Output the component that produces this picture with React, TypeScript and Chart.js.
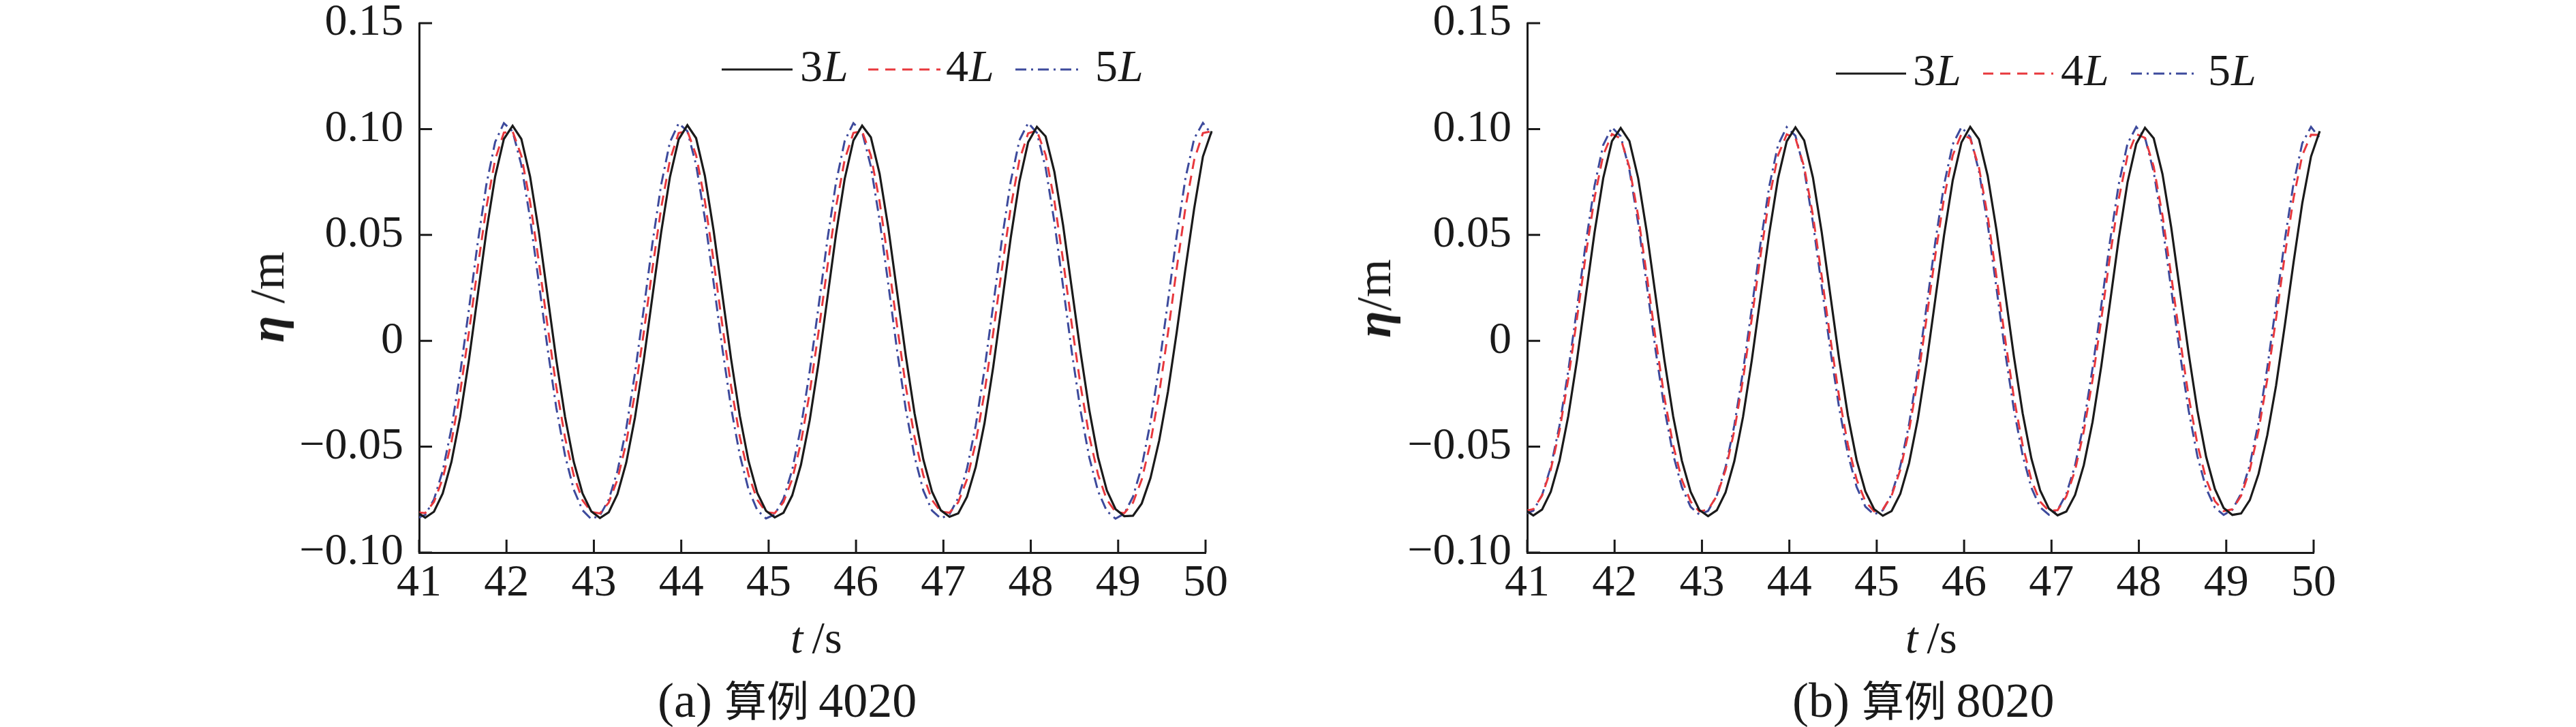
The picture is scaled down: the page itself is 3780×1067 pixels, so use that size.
import React, { useEffect, useRef } from 'react';
import { Chart, registerables } from 'chart.js';

Chart.register(...registerables);

// ---------- data ----------
const TIME = [
  40.97, 41.07, 41.17, 41.27, 41.37, 41.47, 41.57, 41.67, 41.77, 41.87,
  41.97, 42.07, 42.17, 42.27, 42.37, 42.47, 42.57, 42.67, 42.77, 42.87,
  42.97, 43.07, 43.17, 43.27, 43.37, 43.47, 43.57, 43.67, 43.77, 43.87,
  43.97, 44.07, 44.17, 44.27, 44.37, 44.47, 44.57, 44.67, 44.77, 44.87,
  44.97, 45.07, 45.17, 45.27, 45.37, 45.47, 45.57, 45.67, 45.77, 45.87,
  45.97, 46.07, 46.17, 46.27, 46.37, 46.47, 46.57, 46.67, 46.77, 46.87,
  46.97, 47.07, 47.17, 47.27, 47.37, 47.47, 47.57, 47.67, 47.77, 47.87,
  47.97, 48.07, 48.17, 48.27, 48.37, 48.47, 48.57, 48.67, 48.77, 48.87,
  48.97, 49.07, 49.17, 49.27, 49.37, 49.47, 49.57, 49.67, 49.77, 49.87,
  49.97, 50.07,
];

const SERIES_NAMES = ['3L', '4L', '5L'];

// (a) case 4020
const A_3L = [
  -0.0807, -0.0835, -0.0807, -0.0721, -0.0572, -0.0359, -0.0090, 0.0213, 0.0516, 0.0776,
  0.0953, 0.1015, 0.0953, 0.0776, 0.0516, 0.0213, -0.0090, -0.0359, -0.0572, -0.0721,
  -0.0805, -0.0837, -0.0810, -0.0724, -0.0576, -0.0363, -0.0094, 0.0209, 0.0512, 0.0772,
  0.0951, 0.1018, 0.0957, 0.0780, 0.0521, 0.0218, -0.0085, -0.0354, -0.0568, -0.0718,
  -0.0803, -0.0834, -0.0812, -0.0730, -0.0585, -0.0375, -0.0108, 0.0195, 0.0500, 0.0764,
  0.0946, 0.1016, 0.0961, 0.0789, 0.0532, 0.0230, -0.0072, -0.0343, -0.0560, -0.0713,
  -0.0800, -0.0831, -0.0815, -0.0737, -0.0596, -0.0390, -0.0124, 0.0178, 0.0485, 0.0752,
  0.0938, 0.1010, 0.0965, 0.0798, 0.0545, 0.0245, -0.0055, -0.0328, -0.0550, -0.0706,
  -0.0795, -0.0828, -0.0826, -0.0768, -0.0648, -0.0470, -0.0240, 0.0040, 0.0340, 0.0625,
  0.0870, 0.0990,
];
const A_4L = [
  -0.0810, -0.0813, -0.0761, -0.0651, -0.0478, -0.0243, 0.0040, 0.0344, 0.0630, 0.0856,
  0.0983, 0.0989, 0.0874, 0.0656, 0.0374, 0.0070, -0.0217, -0.0457, -0.0636, -0.0753,
  -0.0808, -0.0815, -0.0764, -0.0655, -0.0482, -0.0247, 0.0036, 0.0340, 0.0627, 0.0853,
  0.0981, 0.0991, 0.0877, 0.0660, 0.0378, 0.0074, -0.0213, -0.0453, -0.0633, -0.0751,
  -0.0809, -0.0814, -0.0762, -0.0653, -0.0480, -0.0245, 0.0038, 0.0342, 0.0629, 0.0855,
  0.0982, 0.0990, 0.0875, 0.0657, 0.0375, 0.0071, -0.0216, -0.0456, -0.0635, -0.0752,
  -0.0807, -0.0812, -0.0763, -0.0654, -0.0481, -0.0246, 0.0037, 0.0341, 0.0628, 0.0854,
  0.0980, 0.0992, 0.0878, 0.0661, 0.0379, 0.0075, -0.0212, -0.0452, -0.0632, -0.0750,
  -0.0808, -0.0814, -0.0764, -0.0655, -0.0481, -0.0246, 0.0037, 0.0341, 0.0628, 0.0854,
  0.0981, 0.0990,
];
const A_5L = [
  -0.0839, -0.0822, -0.0749, -0.0614, -0.0414, -0.0153, 0.0149, 0.0461, 0.0738, 0.0939,
  0.1028, 0.0989, 0.0830, 0.0578, 0.0275, -0.0036, -0.0316, -0.0541, -0.0703, -0.0800,
  -0.0842, -0.0824, -0.0750, -0.0615, -0.0415, -0.0154, 0.0148, 0.0460, 0.0737, 0.0938,
  0.1027, 0.0990, 0.0831, 0.0579, 0.0276, -0.0035, -0.0315, -0.0540, -0.0702, -0.0800,
  -0.0839, -0.0820, -0.0746, -0.0609, -0.0407, -0.0144, 0.0158, 0.0470, 0.0745, 0.0943,
  0.1028, 0.0986, 0.0823, 0.0569, 0.0266, -0.0045, -0.0324, -0.0547, -0.0707, -0.0802,
  -0.0839, -0.0819, -0.0742, -0.0604, -0.0400, -0.0136, 0.0168, 0.0479, 0.0752, 0.0947,
  0.1029, 0.0982, 0.0817, 0.0561, 0.0256, -0.0054, -0.0331, -0.0552, -0.0710, -0.0804,
  -0.0840, -0.0816, -0.0736, -0.0593, -0.0385, -0.0118, 0.0187, 0.0496, 0.0767, 0.0955,
  0.1029, 0.0975,
];

// (b) case 8020
const B_3L = [
  -0.0797, -0.0825, -0.0797, -0.0713, -0.0566, -0.0356, -0.0090, 0.0210, 0.0510, 0.0768,
  0.0943, 0.1005, 0.0943, 0.0768, 0.0510, 0.0210, -0.0090, -0.0356, -0.0566, -0.0713,
  -0.0799, -0.0828, -0.0800, -0.0716, -0.0569, -0.0359, -0.0093, 0.0207, 0.0507, 0.0766,
  0.0942, 0.1008, 0.0946, 0.0771, 0.0514, 0.0214, -0.0086, -0.0352, -0.0563, -0.0711,
  -0.0795, -0.0826, -0.0804, -0.0722, -0.0578, -0.0370, -0.0105, 0.0195, 0.0497, 0.0758,
  0.0937, 0.1010, 0.0952, 0.0779, 0.0524, 0.0225, -0.0074, -0.0342, -0.0556, -0.0706,
  -0.0792, -0.0824, -0.0806, -0.0728, -0.0587, -0.0383, -0.0119, 0.0181, 0.0484, 0.0748,
  0.0930, 0.1006, 0.0956, 0.0788, 0.0536, 0.0238, -0.0060, -0.0330, -0.0548, -0.0700,
  -0.0789, -0.0822, -0.0815, -0.0752, -0.0628, -0.0445, -0.0212, 0.0072, 0.0370, 0.0650,
  0.0870, 0.0990,
];
const B_4L = [
  -0.0804, -0.0795, -0.0731, -0.0608, -0.0423, -0.0180, 0.0106, 0.0404, 0.0674, 0.0877,
  0.0976, 0.0956, 0.0819, 0.0590, 0.0305, 0.0008, -0.0267, -0.0492, -0.0656, -0.0759,
  -0.0806, -0.0797, -0.0733, -0.0610, -0.0425, -0.0182, 0.0104, 0.0402, 0.0672, 0.0875,
  0.0975, 0.0957, 0.0821, 0.0592, 0.0307, 0.0010, -0.0265, -0.0490, -0.0655, -0.0758,
  -0.0805, -0.0796, -0.0732, -0.0609, -0.0424, -0.0181, 0.0105, 0.0403, 0.0673, 0.0876,
  0.0977, 0.0955, 0.0818, 0.0589, 0.0304, 0.0007, -0.0268, -0.0493, -0.0657, -0.0760,
  -0.0803, -0.0800, -0.0735, -0.0612, -0.0427, -0.0184, 0.0102, 0.0400, 0.0670, 0.0874,
  0.0976, 0.0958, 0.0822, 0.0593, 0.0308, 0.0011, -0.0264, -0.0489, -0.0654, -0.0757,
  -0.0804, -0.0796, -0.0732, -0.0609, -0.0424, -0.0181, 0.0105, 0.0403, 0.0673, 0.0876,
  0.0973, 0.0972,
];
const B_5L = [
  -0.0819, -0.0802, -0.0729, -0.0596, -0.0399, -0.0142, 0.0155, 0.0460, 0.0731, 0.0925,
  0.1008, 0.0966, 0.0806, 0.0556, 0.0257, -0.0047, -0.0319, -0.0537, -0.0691, -0.0784,
  -0.0821, -0.0803, -0.0730, -0.0597, -0.0400, -0.0143, 0.0154, 0.0459, 0.0730, 0.0924,
  0.1009, 0.0968, 0.0808, 0.0558, 0.0259, -0.0045, -0.0317, -0.0535, -0.0690, -0.0783,
  -0.0820, -0.0800, -0.0726, -0.0592, -0.0394, -0.0136, 0.0161, 0.0466, 0.0736, 0.0928,
  0.1009, 0.0963, 0.0801, 0.0550, 0.0250, -0.0054, -0.0325, -0.0541, -0.0694, -0.0786,
  -0.0821, -0.0799, -0.0723, -0.0588, -0.0389, -0.0130, 0.0167, 0.0471, 0.0740, 0.0931,
  0.1010, 0.0960, 0.0797, 0.0545, 0.0244, -0.0060, -0.0330, -0.0545, -0.0697, -0.0788,
  -0.0822, -0.0798, -0.0721, -0.0585, -0.0385, -0.0126, 0.0171, 0.0475, 0.0743, 0.0933,
  0.1010, 0.0958,
];

const X_MIN = 41;
const X_MAX = 50;
const X_STEP = 1;
const Y_MIN = -0.1;
const Y_MAX = 0.15;
const Y_STEP = 0.05;

// ---------- styles ----------
const SERIF = '"Liberation Serif", "Times New Roman", serif';
const CJK = '"Noto Sans CJK SC", "Liberation Serif", serif';
const INK = '#1a1a1a';
const LINE_STYLES = [
  { color: '#1a1a1a', dash: [] as number[], width: 3.2 },
  { color: '#e8383d', dash: [15, 10], width: 3 },
  { color: '#3d4a9c', dash: [16, 7, 3, 7], width: 3 },
];

const CANVAS_W = 1590;
const CANVAS_H = 1067;
const AXIS_W = 315; // y-axis box width
const AXIS_H = 256; // x-axis box height
const PAD_TOP = 34;
const PAD_RIGHT = 121;

const decorPlugin = {
  id: 'waveDecor',
  beforeDatasetsDraw(chart: any, _args: any, opts: any) {
    const { ctx, chartArea: a, scales } = chart;
    ctx.save();
    ctx.strokeStyle = INK;
    ctx.lineWidth = 3;
    ctx.setLineDash([]);
    ctx.beginPath();
    for (const t of scales.y.ticks) {
      const y = scales.y.getPixelForValue(t.value);
      ctx.moveTo(a.left, y);
      ctx.lineTo(a.left + opts.tickLen, y);
    }
    for (const t of scales.x.ticks) {
      const x = scales.x.getPixelForValue(t.value);
      ctx.moveTo(x, a.bottom);
      ctx.lineTo(x, a.bottom - opts.tickLen);
    }
    ctx.stroke();
    ctx.restore();
  },
  afterDatasetsDraw(chart: any, _args: any, opts: any) {
    const { ctx, chartArea: a } = chart;
    const y = a.top + opts.legendY;
    chart.data.datasets.forEach((ds: any, i: number) => {
      const item = opts.items[i];
      ctx.save();
      ctx.strokeStyle = ds.borderColor;
      ctx.lineWidth = ds.borderWidth;
      ctx.setLineDash(ds.borderDash || []);
      ctx.beginPath();
      ctx.moveTo(a.left + item.x0, y);
      ctx.lineTo(a.left + item.x1, y);
      ctx.stroke();
      ctx.setLineDash([]);
      ctx.fillStyle = INK;
      ctx.textBaseline = 'alphabetic';
      ctx.textAlign = 'left';
      const label: string = ds.label;
      const head = label.slice(0, -1);
      const tail = label.slice(-1);
      ctx.font = `66px ${SERIF}`;
      const tx = a.left + item.tx;
      ctx.fillText(head, tx, y + 17);
      const w = ctx.measureText(head).width;
      ctx.font = `italic 66px ${SERIF}`;
      ctx.fillText(tail, tx + w + 1, y + 17);
      ctx.restore();
    });
  },
};

const fmtY = (v: number) => {
  if (Math.abs(v) < 1e-9) return '0';
  const s = Math.abs(v).toFixed(2);
  return v < 0 ? '\u2212' + s : s;
};

type PanelCfg = {
  left: number;
  series: number[][];
  legendY: number;
  legendItems: { x0: number; x1: number; tx: number }[];
};

function Panel({ cfg }: { cfg: PanelCfg }) {
  const ref = useRef<HTMLCanvasElement | null>(null);
  useEffect(() => {
    const canvas = ref.current;
    if (!canvas) return;
    const datasets = cfg.series.map((vals, i) => ({
      label: SERIES_NAMES[i],
      data: TIME.map((t, k) => ({ x: t, y: vals[k] })),
      borderColor: LINE_STYLES[i].color,
      borderDash: LINE_STYLES[i].dash,
      borderWidth: LINE_STYLES[i].width,
      pointRadius: 0,
      tension: 0,
      fill: false,
      clip: { left: 0, top: false, right: 14, bottom: false },
    }));
    const tickFont = { family: SERIF, size: 66, lineHeight: 1.2 };
    const chart = new Chart(canvas, {
      type: 'line',
      data: { datasets } as any,
      options: {
        responsive: false,
        animation: false,
        devicePixelRatio: 1,
        events: [],
        layout: { padding: { left: 0, top: PAD_TOP, right: PAD_RIGHT, bottom: 0 } },
        plugins: {
          legend: { display: false },
          tooltip: { enabled: false },
          waveDecor: { tickLen: 19, legendY: cfg.legendY, items: cfg.legendItems },
        } as any,
        scales: {
          x: {
            type: 'linear',
            min: X_MIN,
            max: X_MAX,
            ticks: {
              stepSize: X_STEP,
              font: tickFont,
              color: INK,
              padding: 6,
              maxRotation: 0,
              autoSkip: false,
              callback: (v: any) => String(v),
            },
            grid: { drawOnChartArea: false, drawTicks: false },
            border: { display: true, color: INK, width: 3 },
            afterFit: (s: any) => {
              s.height = AXIS_H;
              s.paddingLeft = 0;
              s.paddingRight = 0;
            },
          },
          y: {
            type: 'linear',
            min: Y_MIN,
            max: Y_MAX,
            ticks: {
              stepSize: Y_STEP,
              font: tickFont,
              color: INK,
              padding: 23,
              callback: (v: any) => fmtY(Number(v)),
            },
            grid: { drawOnChartArea: false, drawTicks: false },
            border: { display: true, color: INK, width: 3 },
            afterFit: (s: any) => {
              s.width = AXIS_W;
              s.paddingTop = 0;
              s.paddingBottom = 0;
            },
          },
        },
      } as any,
      plugins: [decorPlugin as any],
    });
    return () => chart.destroy();
  }, [cfg]);
  return (
    <canvas
      ref={ref}
      width={CANVAS_W}
      height={CANVAS_H}
      style={{ position: 'absolute', left: cfg.left, top: 0, width: CANVAS_W, height: CANVAS_H }}
    />
  );
}

const PANEL_A: PanelCfg = {
  left: 300,
  series: [A_3L, A_4L, A_5L],
  legendY: 68,
  legendItems: [
    { x0: 444, x1: 548, tx: 559 },
    { x0: 659, x1: 765, tx: 773 },
    { x0: 875, x1: 970, tx: 992 },
  ],
};
const PANEL_B: PanelCfg = {
  left: 1926,
  series: [B_3L, B_4L, B_5L],
  legendY: 74,
  legendItems: [
    { x0: 453, x1: 556, tx: 566 },
    { x0: 669, x1: 772, tx: 783 },
    { x0: 886, x1: 984, tx: 999 },
  ],
};

const text = { position: 'absolute' as const, whiteSpace: 'nowrap' as const, lineHeight: 1, color: INK, fontFamily: SERIF };

function YTitle({ cx, cy, gap }: { cx: number; cy: number; gap: boolean }) {
  return (
    <div
      style={{
        ...text,
        left: cx,
        top: cy,
        fontSize: 72,
        transform: 'translate(-50%, -50%) rotate(-90deg)',
      }}
    >
      <span style={{ fontWeight: 'bold', fontStyle: 'italic' }}>η</span>
      {gap ? ' /m' : '/m'}
    </div>
  );
}

function XTitle({ x }: { x: number }) {
  return (
    <div style={{ ...text, left: x, top: 903, fontSize: 66 }}>
      <span style={{ fontStyle: 'italic' }}>t</span>
      {'\u2009/s'}
    </div>
  );
}

function Caption({ x, tag, num }: { x: number; tag: string; num: string }) {
  return (
    <div style={{ ...text, left: x, top: 992, fontSize: 72 }}>
      {tag + ' '}
      <span style={{ fontFamily: CJK, fontSize: 62, lineHeight: 1 }}>算例</span>
      {'\u2009' + num}
    </div>
  );
}

export default function App() {
  return (
    <div
      style={{
        position: 'absolute',
        left: 0,
        top: 0,
        width: 3780,
        height: 1067,
        background: '#ffffff',
        overflow: 'hidden',
      }}
    >
      <Panel cfg={PANEL_A} />
      <Panel cfg={PANEL_B} />
      <YTitle cx={392} cy={436} gap={true} />
      <YTitle cx={2016} cy={438} gap={false} />
      <XTitle x={1160} />
      <XTitle x={2796} />
      <Caption x={965} tag="(a)" num="4020" />
      <Caption x={2630} tag="(b)" num="8020" />
    </div>
  );
}
